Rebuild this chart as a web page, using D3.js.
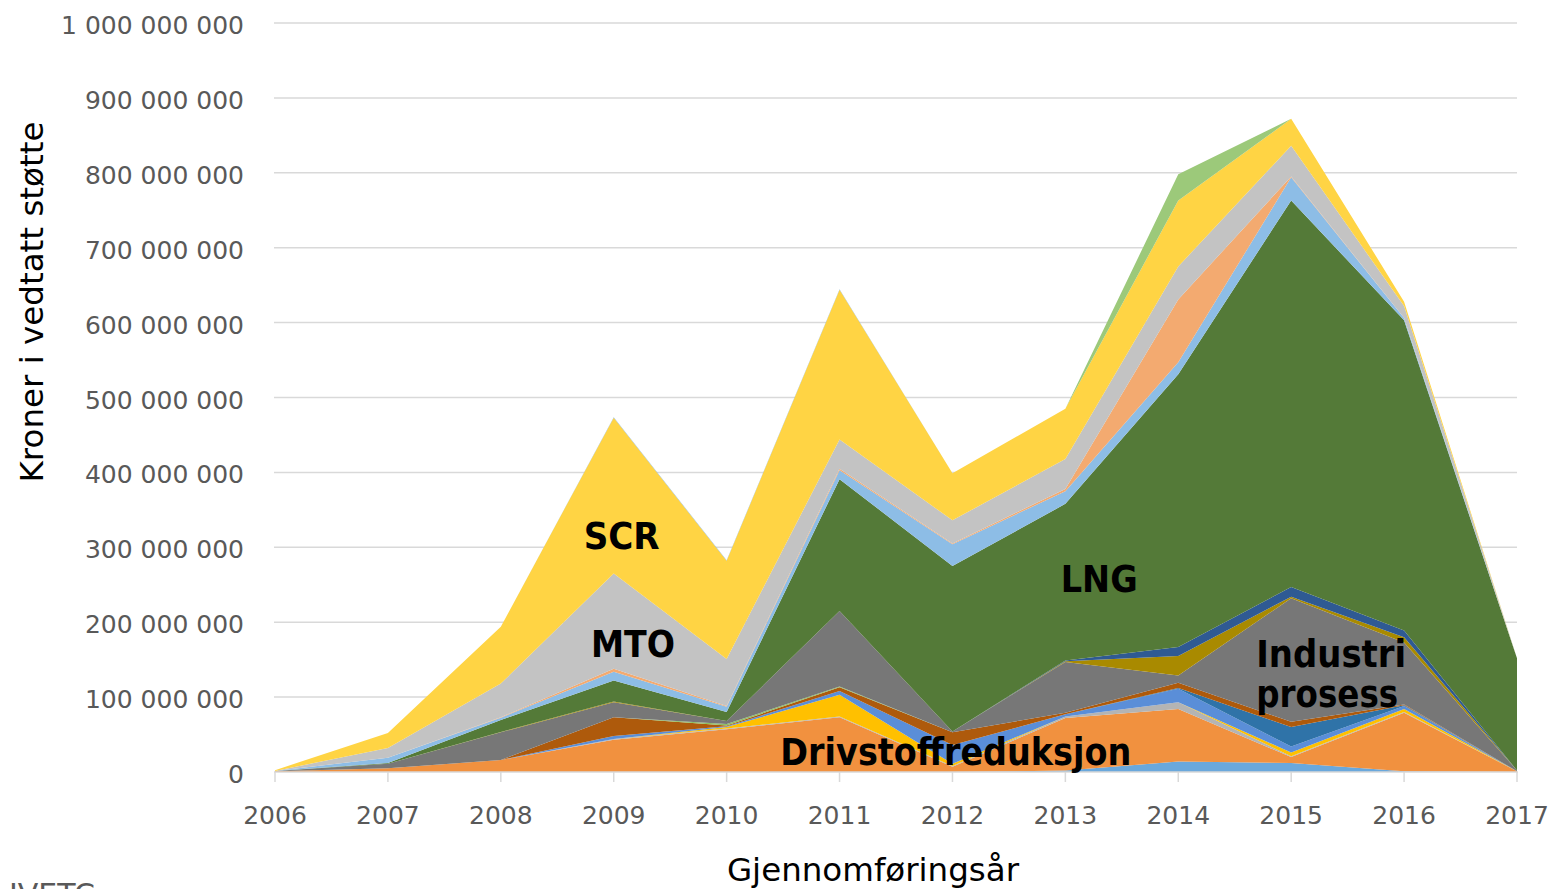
<!DOCTYPE html>
<html>
<head>
<meta charset="utf-8">
<script src="https://cdn.jsdelivr.net/npm/d3@7"></script>
<style>
  html, body { margin: 0; padding: 0; background: #fff; }
  svg { display: block; }
</style>
</head>
<body>
<svg id="chart" width="1554" height="889"></svg>
<script>
// ---- Data (values in millions of NOK) ----
const years = [2006, 2007, 2008, 2009, 2010, 2011, 2012, 2013, 2014, 2015, 2016, 2017];

const seriesNames = [
  "Serie 1", "Drivstoffreduksjon", "Serie 3", "Serie 4", "Serie 5", "Serie 6",
  "Serie 7", "Serie 8", "Industri prosess", "Serie 10", "Serie 11", "LNG",
  "Serie 13", "Serie 14", "MTO", "SCR", "Serie 17", "Serie 18"
];

const serie1            = [0, 0, 0, 0, 0, 0, 0, 2, 14, 12, 1, 0];
const drivstoffreduksjon = [1, 5, 16, 43, 57, 73, 7, 70, 70, 8, 78, 1];
const serie3            = [0, 0, 0, 1, 1, 1, 1, 2, 9, 1, 1, 0];
const serie4            = [0, 0, 0, 0, 2, 29, 3, 0, 0, 5, 4, 0];
const serie5            = [0, 0, 0, 4, 1, 5, 25, 3, 18, 8, 4, 0];
const serie6            = [0, 0, 0, 0, 0, 0, 0, 0, 1, 26, 1, 0];
const serie7            = [0, 0, 0, 25, 1, 5, 17, 2, 7, 7, 1, 0];
const serie8            = [0, 0, 0, 0, 2, 1, 0, 0, 0, 0, 0, 0];
const industriProsess   = [0.5, 6, 37, 20, 4, 101, 1, 68, 10, 165, 83, 1];
const serie10           = [0, 0, 0.5, 1, 0, 0, 0, 1, 26, 2, 7, 0];
const serie11           = [0, 0, 0, 0, 0, 0, 0, 1, 12, 13, 9, 0];
const lng               = [0, 1, 16, 28, 12, 176, 221, 209, 364, 516, 414, 150];
const serie13           = [0, 7, 3, 12, 7, 12, 29, 17, 16, 31, 3, 0];
const serie14           = [0, 0, 0.5, 4, 1, 2, 1, 3, 84, 1, 0, 0];
const mto               = [0, 13, 45, 127, 63, 39, 31, 40, 44, 41, 16, 0];
const scr               = [1, 20, 76, 208, 131, 200, 63, 67, 88, 36, 6, 0];
const serie17           = [0, 0, 0, 0, 0, 0, 0, 0, 35, 0, 0, 0];
const serie18           = [0, 0, 0, 0.5, 0.8, 0.5, 0, 0, 0, 0, 0, 0];

const seriesValues = [
  serie1, drivstoffreduksjon, serie3, serie4, serie5, serie6, serie7, serie8,
  industriProsess, serie10, serie11, lng, serie13, serie14, mto, scr, serie17, serie18
];

const seriesColors = [
  "#6AA8DC", "#F1913F", "#B4B4B4", "#FFC000", "#5A8ED8", "#2F73A8",
  "#AE5A0C", "#8DC063", "#777777", "#A98A00", "#2F5A93", "#547A38",
  "#8DBDE6", "#F3AA70", "#C3C3C3", "#FFD444", "#9CC97A", "#7FB0E0"
];

const yTicks = [0, 100, 200, 300, 400, 500, 600, 700, 800, 900, 1000];
const yTickLabels = ["0", "100 000 000", "200 000 000", "300 000 000", "400 000 000",
  "500 000 000", "600 000 000", "700 000 000", "800 000 000", "900 000 000", "1 000 000 000"];

// label anchor: "middle" -> year is centre, "start" -> year is left edge
const areaLabels = [
  { text: "SCR", year: 2009.07, value: 298, width: 76, anchor: "middle" },
  { text: "MTO", year: 2009.17, value: 153, width: 84, anchor: "middle" },
  { text: "LNG", year: 2013.30, value: 240, width: 77, anchor: "middle" },
  { text: "Drivstoffreduksjon", year: 2012.03, value: 9, width: 351, anchor: "middle" },
  { text: "Industri", year: 2014.69, value: 140, width: 150, anchor: "start" },
  { text: "prosess", year: 2014.69, value: 87, width: 142, anchor: "start" }
];

// ---- Build ----
const svg = d3.select("#chart");
const x = d3.scaleLinear().domain([2006, 2017]).range([275, 1517]);
const y = d3.scaleLinear().domain([0, 1000]).range([772, 23]);

const table = years.map((yr, i) => {
  const row = { year: yr };
  seriesNames.forEach((n, k) => { row[n] = seriesValues[k][i]; });
  return row;
});

// gridlines
svg.append("g").selectAll("line").data(yTicks.slice(1)).join("line")
  .attr("x1", 274).attr("x2", 1517)
  .attr("y1", d => y(d)).attr("y2", d => y(d))
  .attr("stroke", "#D9D9D9").attr("stroke-width", 1.5);

// stacked areas
const stack = d3.stack().keys(seriesNames);
const layers = stack(table);
const area = d3.area()
  .x(d => x(d.data.year))
  .y0(d => y(d[0]))
  .y1(d => y(d[1]));

svg.append("g").selectAll("path").data(layers).join("path")
  .attr("d", area)
  .attr("fill", (d, i) => seriesColors[i]);

// x axis line and ticks
svg.append("line").attr("x1", 274).attr("x2", 1518)
  .attr("y1", y(0)).attr("y2", y(0))
  .attr("stroke", "#D9D9D9").attr("stroke-width", 1.5);
svg.append("g").selectAll("line").data(years).join("line")
  .attr("x1", d => x(d)).attr("x2", d => x(d))
  .attr("y1", y(0)).attr("y2", y(0) + 10)
  .attr("stroke", "#D9D9D9").attr("stroke-width", 1.5);

// x tick labels
svg.append("g").selectAll("text").data(years).join("text")
  .attr("x", d => x(d)).attr("y", 824)
  .attr("text-anchor", "middle")
  .attr("font-family", "DejaVu Sans, sans-serif")
  .attr("font-size", 25).attr("fill", "#595959")
  .text(d => d);

// y tick labels
svg.append("g").selectAll("text").data(yTicks).join("text")
  .attr("x", 244).attr("y", d => y(d) + 11)
  .attr("text-anchor", "end")
  .attr("font-family", "DejaVu Sans, sans-serif")
  .attr("font-size", 25).attr("fill", "#595959")
  .text((d, i) => yTickLabels[i]);

// axis titles
svg.append("text")
  .attr("transform", "translate(43,302) rotate(-90)")
  .attr("text-anchor", "middle")
  .attr("font-family", "DejaVu Sans, sans-serif")
  .attr("font-size", 32.5).attr("fill", "#000")
  .text("Kroner i vedtatt støtte");

svg.append("text")
  .attr("x", 873).attr("y", 881)
  .attr("text-anchor", "middle")
  .attr("font-family", "DejaVu Sans, sans-serif")
  .attr("font-size", 32.5).attr("fill", "#000")
  .text("Gjennomføringsår");

// partial footer text at bottom-left (cut off by the page edge, as in the reference)
svg.append("text")
  .attr("x", 9).attr("y", 905)
  .attr("font-family", "DejaVu Sans, sans-serif")
  .attr("font-size", 30).attr("fill", "#595959")
  .text("IVETC");

// area labels
svg.append("g").selectAll("text").data(areaLabels).join("text")
  .attr("x", d => x(d.year)).attr("y", d => y(d.value))
  .attr("text-anchor", d => d.anchor)
  .attr("font-family", "DejaVu Sans, sans-serif")
  .attr("font-weight", "bold")
  .attr("font-size", 37).attr("fill", "#000")
  .attr("textLength", d => d.width)
  .attr("lengthAdjust", "spacingAndGlyphs")
  .text(d => d.text);
</script>
</body>
</html>
